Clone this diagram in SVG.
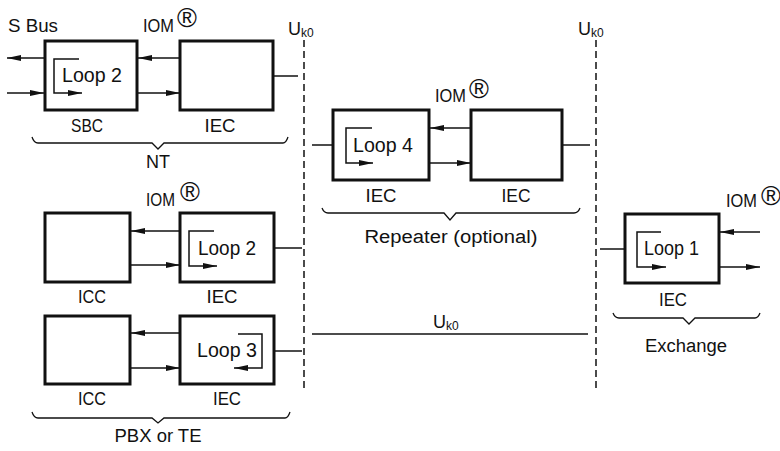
<svg xmlns="http://www.w3.org/2000/svg" width="780" height="451" viewBox="0 0 780 451">
<defs>
<marker id="ah" markerUnits="userSpaceOnUse" markerWidth="16" markerHeight="8" refX="14" refY="3" orient="auto">
<path d="M0,0 L14,3 L0,6 z" fill="#111"/>
</marker>
<style>
.box{fill:#fff;stroke:#111;stroke-width:3}
.ln{fill:none;stroke:#111;stroke-width:1.5}
.ar{fill:none;stroke:#111;stroke-width:1.5;marker-end:url(#ah)}
.dash{fill:none;stroke:#111;stroke-width:1.5;stroke-dasharray:7 4}
.br{fill:none;stroke:#111;stroke-width:1.3}
text{font-family:"Liberation Sans",Arial,sans-serif;fill:#111;font-size:18px}
.c{text-anchor:middle}
.lp{font-size:20px}
.reg{font-size:27px}
.sub{font-size:12px}
</style>
</defs>
<rect width="780" height="451" fill="#fff"/>

<g id="connectors">
<line class="dash" x1="304" y1="40" x2="304" y2="390"/>
<line class="dash" x1="596" y1="40" x2="596" y2="390"/>
<line class="ar" x1="44" y1="58" x2="7" y2="58"/>
<line class="ar" x1="7" y1="93" x2="44" y2="93"/>
<line class="ar" x1="180" y1="58" x2="138" y2="58"/>
<line class="ar" x1="138" y1="93" x2="180" y2="93"/>
<line class="ln" x1="273" y1="76" x2="298" y2="76"/>
<line class="ln" x1="312" y1="145" x2="333" y2="145"/>
<line class="ar" x1="471" y1="128" x2="430" y2="128"/>
<line class="ar" x1="430" y1="163" x2="471" y2="163"/>
<line class="ln" x1="562" y1="145" x2="590" y2="145"/>
<line class="ar" x1="180" y1="231" x2="131" y2="231"/>
<line class="ar" x1="131" y1="265" x2="180" y2="265"/>
<line class="ln" x1="274" y1="248" x2="302" y2="248"/>
<line class="ar" x1="180" y1="333" x2="131" y2="333"/>
<line class="ar" x1="131" y1="368" x2="180" y2="368"/>
<line class="ln" x1="274" y1="351" x2="302" y2="351"/>
<line class="ln" x1="312" y1="334" x2="588" y2="334"/>
<line class="ln" x1="600" y1="249" x2="625" y2="249"/>
<line class="ar" x1="760" y1="232" x2="720" y2="232"/>
<line class="ar" x1="720" y1="267" x2="760" y2="267"/>
</g>

<g id="nt-sbc">
<rect class="box" x="45" y="41" width="92" height="69"/>
<polyline class="ar" points="79,59 54,59 54,93 82,93"/>
<text class="lp" x="62" y="82" textLength="60" lengthAdjust="spacingAndGlyphs">Loop 2</text>
<text class="c" x="87" y="132" textLength="32" lengthAdjust="spacingAndGlyphs">SBC</text>
</g>
<g id="nt-iec">
<rect class="box" x="180" y="41" width="93" height="69"/>
<text class="c" x="220" y="132" textLength="31" lengthAdjust="spacingAndGlyphs">IEC</text>
</g>
<g id="nt-labels">
<text x="8" y="32" textLength="50" lengthAdjust="spacingAndGlyphs">S Bus</text>
<text x="143" y="32" textLength="31" lengthAdjust="spacingAndGlyphs">IOM</text>
<text class="reg" x="177" y="27">®</text>
<path class="br" d="M32,137 Q34,143 38,143 L152,143 L158,149 L164,143 L283,143 Q286,143 288,137"/>
<text class="c" x="158" y="168">NT</text>
</g>

<g id="rep-iec1">
<rect class="box" x="333" y="110" width="96" height="70"/>
<polyline class="ar" points="372,128 346,128 346,163 373,163"/>
<text class="lp" x="353" y="152" textLength="60" lengthAdjust="spacingAndGlyphs">Loop 4</text>
<text class="c" x="381" y="202" textLength="31" lengthAdjust="spacingAndGlyphs">IEC</text>
</g>
<g id="rep-iec2">
<rect class="box" x="471" y="110" width="91" height="70"/>
<text class="c" x="516" y="202" textLength="29" lengthAdjust="spacingAndGlyphs">IEC</text>
</g>
<g id="rep-labels">
<text x="435" y="102" textLength="31" lengthAdjust="spacingAndGlyphs">IOM</text>
<text class="reg" x="469" y="98">®</text>
<path class="br" d="M322,208 Q324,213 328,213 L444,213 L450,220 L456,213 L574,213 Q578,213 580,208"/>
<text class="c" x="451" y="243" textLength="173" lengthAdjust="spacingAndGlyphs">Repeater (optional)</text>
</g>

<g id="pbx-icc1">
<rect class="box" x="45" y="213" width="85" height="69"/>
<text class="c" x="92" y="303" textLength="28" lengthAdjust="spacingAndGlyphs">ICC</text>
</g>
<g id="pbx-iec1">
<rect class="box" x="180" y="213" width="94" height="69"/>
<polyline class="ar" points="214,231 189,231 189,266 217,266"/>
<text class="lp" x="198" y="255" textLength="58" lengthAdjust="spacingAndGlyphs">Loop 2</text>
<text class="c" x="222" y="303" textLength="31" lengthAdjust="spacingAndGlyphs">IEC</text>
</g>
<g id="pbx-icc2">
<rect class="box" x="45" y="316" width="85" height="68"/>
<text class="c" x="92" y="405" textLength="28" lengthAdjust="spacingAndGlyphs">ICC</text>
</g>
<g id="pbx-iec2">
<rect class="box" x="180" y="316" width="94" height="68"/>
<polyline class="ar" points="238,334 262,334 262,368 234,368"/>
<text class="lp" x="197" y="357" textLength="60" lengthAdjust="spacingAndGlyphs">Loop 3</text>
<text class="c" x="227" y="405" textLength="28" lengthAdjust="spacingAndGlyphs">IEC</text>
</g>
<g id="pbx-labels">
<text x="146" y="206" textLength="29" lengthAdjust="spacingAndGlyphs">IOM</text>
<text class="reg" x="180" y="201">®</text>
<path class="br" d="M32,412 Q34,418 38,418 L152,418 L158,423 L164,418 L285,418 Q288,418 290,412"/>
<text class="c" x="158" y="442" textLength="87" lengthAdjust="spacingAndGlyphs">PBX or TE</text>
</g>

<g id="exch-iec">
<rect class="box" x="625" y="214" width="94" height="69"/>
<polyline class="ar" points="661,232 637,232 637,267 666,267"/>
<text class="lp" x="644" y="255" textLength="55" lengthAdjust="spacingAndGlyphs">Loop 1</text>
<text class="c" x="673" y="306" textLength="28" lengthAdjust="spacingAndGlyphs">IEC</text>
</g>
<g id="exch-labels">
<text x="726" y="207" textLength="31" lengthAdjust="spacingAndGlyphs">IOM</text>
<text class="reg" x="761" y="205">®</text>
<path class="br" d="M613,313 Q615,318 619,318 L683,318 L689,324 L695,318 L755,318 Q758,318 760,313"/>
<text class="c" x="686" y="352" textLength="82" lengthAdjust="spacingAndGlyphs">Exchange</text>
</g>

<g id="uk0-labels">
<text x="288" y="35">U<tspan class="sub" dy="2">k0</tspan></text>
<text x="578" y="35">U<tspan class="sub" dy="2">k0</tspan></text>
<text x="433" y="328">U<tspan class="sub" dy="2">k0</tspan></text>
</g>
</svg>
